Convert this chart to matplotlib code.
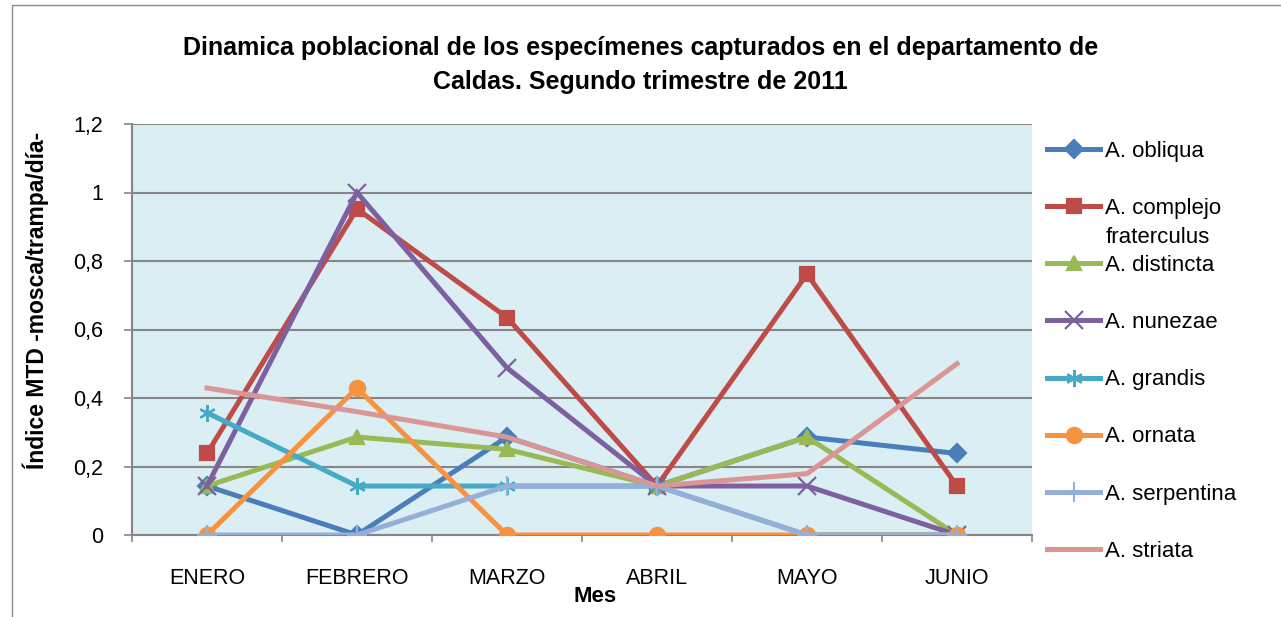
import numpy as np
import matplotlib
matplotlib.use('Agg')
import matplotlib.pyplot as plt
from matplotlib.patches import Rectangle

plt.rcParams['font.family'] = ['Liberation Sans Narrow', 'Liberation Sans', 'DejaVu Sans']

meses = ['ENERO', 'FEBRERO', 'MARZO', 'ABRIL', 'MAYO', 'JUNIO']

especies = ['A. obliqua', 'A. complejo', 'A. distincta', 'A. nunezae',
            'A. grandis', 'A. ornata', 'A. serpentina', 'A. striata']

obliqua = [0.143, 0.0, 0.286, 0.143, 0.286, 0.238]
fraterculus = [0.238, 0.952, 0.635, 0.143, 0.762, 0.143]
distincta = [0.143, 0.286, 0.25, 0.143, 0.286, 0.0]
nunezae = [0.143, 1.0, 0.488, 0.143, 0.143, 0.0]
grandis = [0.357, 0.143, 0.143, 0.143, 0.0, 0.0]
ornata = [0.0, 0.429, 0.0, 0.0, 0.0, 0.0]
serpentina = [0.0, 0.0, 0.143, 0.143, 0.0, 0.0]
striata = [0.429, 0.36, 0.286, 0.143, 0.179, 0.5]

series = [obliqua, fraterculus, distincta, nunezae, grandis, ornata, serpentina, striata]

colores = ['#4A7EBB', '#BE4B48', '#98B954', '#7D60A0', '#46AAC5', '#F69240', '#95B0D8', '#D99694']
marcadores = ['D', 's', '^', 'x', (6, 2, 0), 'o', '+', None]
tam_marc = [9, 10, 10, 13, 12, 11, 15, 0]

y_ticks = [0, 0.2, 0.4, 0.6, 0.8, 1.0, 1.2]
y_labels = ['0', '0,2', '0,4', '0,6', '0,8', '1', '1,2']

fig = plt.figure(figsize=(12.81, 6.17), dpi=100)
# chart frame
fig.patches.append(Rectangle((12 / 1281, -0.05), 1.1, 1 - 5 / 617 + 0.05,
                             transform=fig.transFigure, fill=False, edgecolor='#8C8C8C', lw=1))
ax = fig.add_axes([132 / 1281, 1 - 535 / 617, 900 / 1281, (535 - 124) / 617])
ax.set_facecolor('#DBEEF4')

x = np.arange(len(meses))
handles = []
for vals, lab, c, m, ms in zip(series, especies, colores, marcadores, tam_marc):
    kw = dict(color=c, lw=3.6, label=lab, solid_joinstyle='miter', zorder=3)
    if m is not None:
        kw.update(marker=m, markersize=ms, markeredgecolor=c, markerfacecolor=c, markeredgewidth=1.6)
    h, = ax.plot(x, vals, **kw)
    handles.append(h)

ax.set_xlim(-0.5, len(meses) - 0.5)
ax.set_ylim(0, 1.2)
ax.set_yticks(y_ticks)
ax.set_yticklabels(y_labels, fontsize=15.5)
ax.set_xticks(x)
ax.set_xticklabels(meses, fontsize=15.5)
ax.set_xticks(np.arange(len(meses) + 1) - 0.5, minor=True)
ax.tick_params(axis='x', which='major', length=0, pad=24)
ax.tick_params(axis='x', which='minor', length=5, color='#868686', width=1.2)
ax.tick_params(axis='y', length=6, color='#868686', width=1.2, pad=15)
ax.grid(axis='y', color='#868686', lw=1.5, zorder=1)
ax.set_axisbelow(True)
for s in ['top', 'right']:
    ax.spines[s].set_visible(False)
for s in ['left', 'bottom']:
    ax.spines[s].set_color('#868686')
    ax.spines[s].set_linewidth(1.5)

ax.set_xlabel('Mes', fontsize=16, fontweight='bold')
ax.xaxis.set_label_coords(0.514, -0.125)
ax.set_ylabel('Índice MTD -mosca/trampa/día-', fontsize=16.5, fontweight='bold')
ax.yaxis.set_label_coords(-0.092, 0.57)

fig.suptitle('Dinamica poblacional de los especímenes capturados en el departamento de\n'
             'Caldas. Segundo trimestre de 2011',
             x=0.5, y=1 - 36 / 617, va='top', fontsize=18, fontweight='bold', linespacing=1.5)

leg = ax.legend(handles=handles, loc='upper left', bbox_to_anchor=(1.0068, 0.9805),
                frameon=False, fontsize=16, labelspacing=1.625, handlelength=2.4,
                handletextpad=0.22, borderaxespad=0)

# second line of the wrapped legend entry
fig.canvas.draw()
bb = leg.get_texts()[1].get_window_extent()
fig.text(bb.x0 / fig.bbox.width, (bb.y0 - 29) / fig.bbox.height, 'fraterculus',
         fontsize=16, ha='left', va='bottom')

plt.savefig('out.png', dpi=100)
